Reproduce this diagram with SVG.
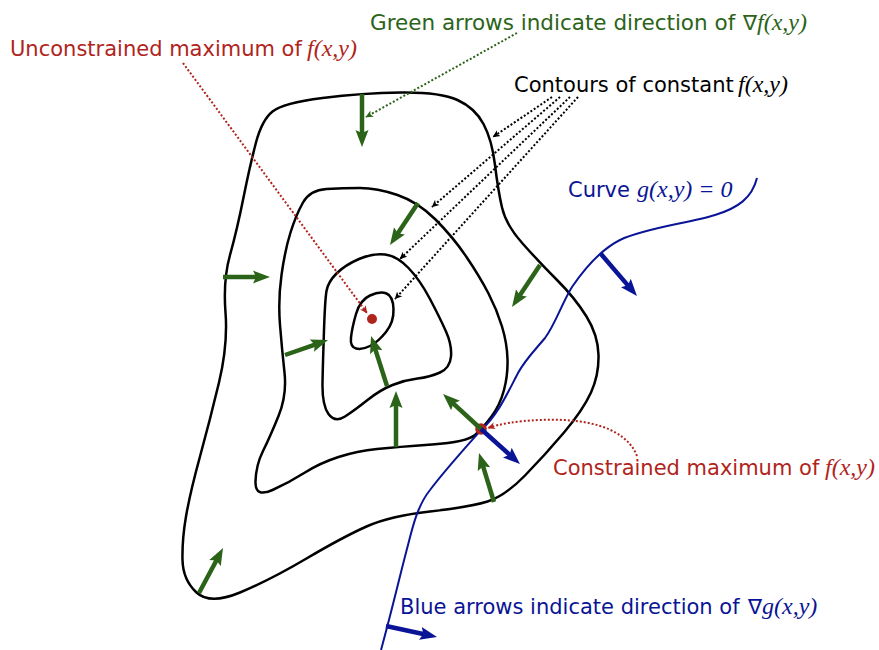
<svg xmlns="http://www.w3.org/2000/svg" width="879" height="650" viewBox="0 0 879 650">
<style>
.sans{font-family:"DejaVu Sans","Liberation Sans",sans-serif;font-size:21px}
.it{font-family:"Liberation Serif","DejaVu Serif",serif;font-style:italic;font-size:24px}
.red{fill:#b0241c}.grn{fill:#2b6419}.blu{fill:#0a1496}.blk{fill:#000}
.contour{fill:none;stroke:#000;stroke-width:2.5}
.gcurve{fill:none;stroke:#0a1496;stroke-width:2}
.garrow{stroke:#2b6419;stroke-width:4.5;fill:none;marker-end:url(#gh)}
.barrow{stroke:#0a1496;stroke-width:4.5;fill:none;marker-end:url(#bh)}
.dot{fill:none;stroke-width:2;stroke-dasharray:2 2}
</style>
<defs>
<marker id="gh" markerWidth="18" markerHeight="14" refX="4" refY="7" orient="auto" markerUnits="userSpaceOnUse"><path d="M0,0.5 L17,7 L0,13.5 L3,7 Z" fill="#2b6419"/></marker>
<marker id="bh" markerWidth="18" markerHeight="14" refX="4" refY="7" orient="auto" markerUnits="userSpaceOnUse"><path d="M0,0.5 L17,7 L0,13.5 L3,7 Z" fill="#0a1496"/></marker>
<marker id="rk" markerWidth="8" markerHeight="8" refX="7" refY="4" orient="auto" markerUnits="userSpaceOnUse"><path d="M0,0.5 L7.5,4 L0,7.5 L2,4 Z" fill="#b0241c"/></marker>
<marker id="gk" markerWidth="8" markerHeight="8" refX="7" refY="4" orient="auto" markerUnits="userSpaceOnUse"><path d="M0,0.5 L7.5,4 L0,7.5 L2,4 Z" fill="#2b6419"/></marker>
<marker id="kk" markerWidth="8" markerHeight="8" refX="7" refY="4" orient="auto" markerUnits="userSpaceOnUse"><path d="M0,0.5 L7.5,4 L0,7.5 L2,4 Z" fill="#000"/></marker>
</defs>

<g id="contour-outer">
<path class="contour" d="M272.5,111.5 Q283,103 322.5,98 Q362,93 401,92.5 Q440,92 457.5,100 Q475,108 483.5,124 Q492,140 495,165 Q498,190 502,207.5 Q506,225 523,244 Q540,263 557.5,280.5 Q575,298 586.5,316.5 Q598,335 598.5,355 Q599,375 591,392.5 Q583,410 564,432.5 Q545,455 525,475.5 Q505,496 487.5,501.5 Q470,507 430,511.5 Q390,516 366.5,526.5 Q343,537 306.5,558.5 Q270,580 240,592.5 Q210,605 196.5,592.5 Q183,580 182.5,560 Q182,540 186,516.5 Q190,493 200,456.5 Q210,420 219,382.5 Q228,345 225.5,312.5 Q223,280 230,255 Q237,230 243.5,197.5 Q250,165 256,142.5 Q262,120 272.5,111.5 Z"/>
</g>
<g id="contour-2">
<path class="contour" d="M326.5,189 Q343,188 360,188 Q377,188 397.5,195 Q418,202 435.5,219.5 Q453,237 466.5,257 Q480,277 488.5,293.5 Q497,310 502,326.5 Q507,343 507.5,359 Q508,375 504,390 Q500,405 491.5,416.5 Q483,428 475,435 Q467,442 432,444.5 Q397,447 377,449 Q357,451 338.5,457 Q320,463 305,472.5 Q290,482 272.5,490 Q255,498 255.5,481.5 Q256,465 263,451 Q270,437 278.5,416 Q287,395 284.5,372.5 Q282,350 280,325 Q278,300 281.5,275 Q285,250 290.5,232.5 Q296,215 303,202.5 Q310,190 326.5,189 Z"/>
</g>
<g id="contour-3">
<path class="contour" d="M385,254.5 Q397,256 408.5,268 Q420,280 430,299 Q440,318 446,331.5 Q452,345 451,356.5 Q450,368 440,372.5 Q430,377 417.5,378.5 Q405,380 392.5,385 Q380,390 367.5,400 Q355,410 345,416.5 Q335,423 328.5,414 Q322,405 322.5,382.5 Q323,360 324,330 Q325,300 326.5,291 Q328,282 336.5,273.5 Q345,265 359,259 Q373,253 385,254.5 Z"/>
</g>
<g id="contour-inner">
<path class="contour" d="M386.5,293.5 Q393,296 393.5,309 Q394,322 386,332 Q378,342 370,346 Q362,350 356,348.5 Q350,347 351,337.5 Q352,328 356,314 Q360,300 370,295.5 Q380,291 386.5,293.5 Z"/>
</g>
<g id="curve-g">
<path class="gcurve" d="M757,178 C752,198 738,208 715,215 C690,223 645,228 620,240 C600,250 585,268 572,287 C562,303 555,325 545,338 C535,350 525,360 518,373 C508,392 498,415 481,430 C465,448 445,470 430,490 C418,505 413,525 408,545 C400,575 392,610 381,650"/>
</g>
<g id="unconstrained-max"><circle cx="372" cy="319" r="5" class="red"/></g>
<g id="constrained-max"><circle cx="481" cy="429" r="5.8" class="red"/></g>

<g id="connectors">
<path class="garrow" d="M362,94 L362,134"/>
<path class="garrow" d="M223,277 L257,277"/>
<path class="garrow" d="M418,203 L397.2,234.2"/>
<path class="garrow" d="M285,355 L315.7,344.3"/>
<path class="garrow" d="M387,386 L375,348.4"/>
<path class="garrow" d="M396,447 L396,404"/>
<path class="garrow" d="M540,265 L519.2,296.2"/>
<path class="garrow" d="M481,429 L452.6,402.8"/>
<path class="garrow" d="M494,502 L482.8,465.4"/>
<path class="garrow" d="M199,593 L216.9,559.5"/>
<path class="barrow" d="M601,254 L628.5,286.1"/>
<path class="barrow" d="M481,429 L510.3,455.3"/>
<path class="barrow" d="M386,626 L424.3,634.3"/>
<path class="dot" stroke="#b0241c" marker-end="url(#rk)" d="M183,63 L367,313"/>
<path class="dot" stroke="#b0241c" marker-end="url(#rk)" d="M637,456 C625,425 580,418 540,420 C515,421 500,424 488,428"/>
<path class="dot" stroke="#2b6419" marker-end="url(#gk)" d="M517,33 L366,117"/>
<path class="dot" stroke="#000" marker-end="url(#kk)" d="M552,97 L493,137"/>
<path class="dot" stroke="#000" marker-end="url(#kk)" d="M560,97 L432,207"/>
<path class="dot" stroke="#000" marker-end="url(#kk)" d="M570,97 L400,259"/>
<path class="dot" stroke="#000" marker-end="url(#kk)" d="M578,97 L395,299"/>
</g>

<g id="label-unconstrained"><text class="sans red" x="10" y="56">Unconstrained maximum of</text><text class="it red" x="307" y="56">f(x,y)</text></g>
<g id="label-green"><text class="sans grn" x="370" y="30" style="font-size:21.5px">Green arrows indicate direction of</text><text class="sans grn" x="743" y="30">∇</text><text class="it grn" x="757" y="30">f(x,y)</text></g>
<g id="label-contours"><text class="sans blk" x="514" y="92">Contours of constant</text><text class="it blk" x="738" y="92">f(x,y)</text></g>
<g id="label-curve"><text class="sans blu" x="568" y="197">Curve</text><text class="it blu" x="637" y="197">g(x,y) = 0</text></g>
<g id="label-constrained"><text class="sans red" x="553" y="475">Constrained maximum of</text><text class="it red" x="825" y="475">f(x,y)</text></g>
<g id="label-blue"><text class="sans blu" x="400" y="614">Blue arrows indicate direction of</text><text class="sans blu" x="748" y="614">∇</text><text class="it blu" x="762" y="614">g(x,y)</text></g>
</svg>
